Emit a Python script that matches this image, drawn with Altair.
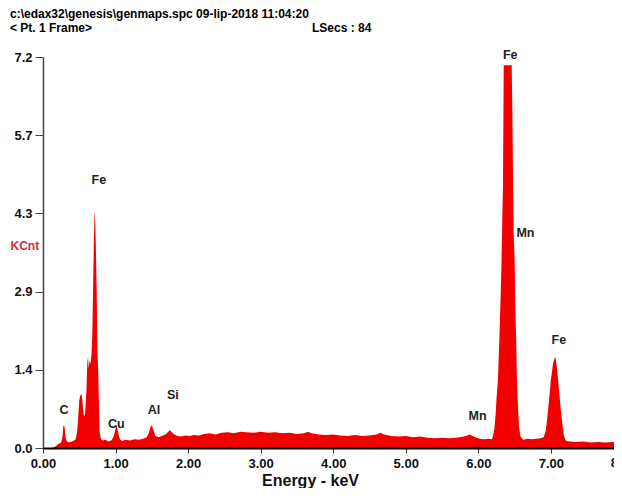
import altair as alt
import pandas as pd

# ---- spectrum data (energy in keV, counts in KCnt) ----
low_energy = [0.00, 0.12, 0.16, 0.19, 0.22, 0.25, 0.27, 0.28, 0.29, 0.30, 0.31, 0.33, 0.36, 0.40, 0.43,
              0.45, 0.47, 0.48, 0.50, 0.51, 0.53, 0.54, 0.55, 0.565, 0.58, 0.59, 0.60, 0.61, 0.62, 0.63,
              0.64, 0.65, 0.66, 0.67, 0.68, 0.69, 0.70, 0.71, 0.72, 0.73, 0.74, 0.75, 0.76, 0.77, 0.78,
              0.80, 0.83, 0.86, 0.90, 0.94, 0.97, 0.99, 1.01, 1.02, 1.04, 1.06, 1.09]
low_counts = [0.00, 0.00, 0.02, 0.05, 0.08, 0.10, 0.22, 0.40, 0.42, 0.36, 0.20, 0.12, 0.10, 0.12, 0.14,
              0.16, 0.30, 0.46, 0.88, 0.95, 1.00, 0.92, 0.75, 0.58, 0.62, 0.85, 1.10, 1.55, 1.67, 1.45,
              1.62, 1.55, 1.60, 1.75, 2.10, 2.90, 3.70, 4.38, 4.15, 3.60, 2.90, 1.80, 1.45, 0.90, 0.30,
              0.16, 0.14, 0.15, 0.12, 0.14, 0.20, 0.30, 0.42, 0.38, 0.26, 0.16, 0.13]

mid_energy = [1.14, 1.20, 1.26, 1.32, 1.38, 1.43, 1.46, 1.48, 1.50, 1.52, 1.55, 1.60, 1.65, 1.69, 1.72,
              1.75, 1.77, 1.80, 1.85, 1.90, 1.96, 2.02, 2.08, 2.15, 2.22, 2.30, 2.38, 2.46, 2.55, 2.63,
              2.72, 2.80, 2.90, 3.00, 3.10, 3.20, 3.30, 3.40, 3.50, 3.60, 3.65, 3.70, 3.80, 3.90, 4.00,
              4.10, 4.20, 4.30, 4.40, 4.50, 4.60, 4.65, 4.70, 4.80, 4.90, 5.00, 5.10, 5.20, 5.30, 5.40,
              5.50, 5.60, 5.70, 5.80, 5.85, 5.88, 5.92, 5.96, 6.02, 6.08, 6.14, 6.19]
mid_counts = [0.15, 0.14, 0.16, 0.15, 0.17, 0.20, 0.28, 0.38, 0.42, 0.34, 0.22, 0.20, 0.23, 0.25, 0.29,
              0.33, 0.30, 0.26, 0.22, 0.21, 0.23, 0.22, 0.24, 0.23, 0.26, 0.27, 0.25, 0.28, 0.29, 0.27,
              0.30, 0.29, 0.28, 0.30, 0.28, 0.29, 0.27, 0.28, 0.26, 0.27, 0.30, 0.27, 0.25, 0.24, 0.25,
              0.23, 0.22, 0.24, 0.22, 0.23, 0.25, 0.28, 0.25, 0.22, 0.21, 0.22, 0.20, 0.21, 0.19, 0.18,
              0.19, 0.18, 0.19, 0.21, 0.23, 0.25, 0.22, 0.20, 0.17, 0.16, 0.17, 0.16]

high_energy = [6.22, 6.24, 6.25, 6.27, 6.29, 6.31, 6.32, 6.33, 6.34, 6.35, 6.40, 6.46, 6.47, 6.48, 6.49,
               6.50, 6.51, 6.52, 6.53, 6.54, 6.56, 6.58, 6.62, 6.68, 6.74, 6.80, 6.86, 6.90, 6.93, 6.95,
               6.97, 7.00, 7.03, 7.06, 7.08, 7.10, 7.12, 7.14, 7.16, 7.18, 7.21, 7.26, 7.35, 7.45, 7.55,
               7.65, 7.75, 7.85, 7.92]
high_counts = [0.33, 0.64, 0.90, 1.25, 2.00, 2.90, 3.45, 4.20, 4.85, 7.05, 7.05, 7.05, 6.10, 4.75, 3.80,
               3.50, 2.60, 2.10, 1.37, 0.95, 0.40, 0.21, 0.15, 0.17, 0.16, 0.17, 0.18, 0.20, 0.32, 0.55,
               0.82, 1.25, 1.56, 1.69, 1.52, 1.25, 0.95, 0.66, 0.42, 0.22, 0.13, 0.12, 0.11, 0.12, 0.10,
               0.11, 0.10, 0.11, 0.10]

# ---- peak labels ----
peak_names = ["C", "Fe", "Cu", "Al", "Si", "Mn", "Fe", "Mn", "Fe"]
peak_energy = [0.29, 0.77, 1.01, 1.53, 1.79, 5.99, 6.44, 6.65, 7.11]
peak_label_y = [0.70, 4.94, 0.44, 0.70, 0.98, 0.59, 7.24, 3.96, 1.99]

# ---- axis ticks ----
x_ticks = [0, 1, 2, 3, 4, 5, 6, 7]
y_ticks = [0.0, 1.44, 2.88, 4.32, 5.76, 7.2]
y_tick_labels = ["0.0", "1.4", "2.9", "4.3", "5.7", "7.2"]

header_line1 = "c:\\edax32\\genesis\\genmaps.spc  09-lip-2018 11:04:20"
header_line2a = "< Pt.  1 Frame>"
header_line2b = "LSecs :  84"

FONT = "Liberation Sans, Arial, Helvetica, sans-serif"
RED = "#f20000"

spec = pd.DataFrame({
    "energy": low_energy + mid_energy + high_energy,
    "kcnt": low_counts + mid_counts + high_counts,
})
peaks = pd.DataFrame({"name": peak_names, "energy": peak_energy, "y": peak_label_y})

label_expr = "[" + ",".join("'%s'" % s for s in y_tick_labels) + "][round(datum.value / 1.44)]"

xscale = alt.Scale(domain=[0, 7.87], nice=False)
yscale = alt.Scale(domain=[0, 7.2], nice=False)

area = alt.Chart(spec).mark_area(color=RED, interpolate="linear").encode(
    x=alt.X("energy:Q", scale=xscale,
            axis=alt.Axis(values=x_ticks, format=".2f", title="Energy - keV",
                          labelFont=FONT, labelFontSize=13, labelFontWeight="bold", labelColor="#111",
                          labelFlush=False, labelPadding=4, tickSize=5, tickColor="#333",
                          domainColor="#000", domainWidth=2, grid=False, zindex=1,
                          titleFont=FONT, titleFontSize=16, titleFontWeight="bold", titleColor="#111",
                          titlePadding=2, titleX=267)),
    y=alt.Y("kcnt:Q", scale=yscale,
            axis=alt.Axis(values=y_ticks, labelExpr=label_expr, title="KCnt",
                          labelFont=FONT, labelFontSize=13, labelFontWeight="bold", labelColor="#111",
                          labelPadding=3, tickSize=8, tickColor="#444", domainColor="#444",
                          domainWidth=1.5, grid=False, labelOverlap=False,
                          titleAngle=0, titleAlign="left", titleBaseline="middle",
                          titleX=-33, titleY=188, titleColor="#c8323c",
                          titleFont=FONT, titleFontSize=12, titleFontWeight="bold")),
)

labels = alt.Chart(peaks).mark_text(font=FONT, fontSize=12.5, fontWeight="bold", color="#222",
                                    baseline="middle", align="center").encode(
    x=alt.X("energy:Q", scale=xscale),
    y=alt.Y("y:Q", scale=yscale),
    text="name:N",
)

edge = alt.Chart(pd.DataFrame({"energy": [8.0], "t": ["8.00"]})).mark_text(
    font=FONT, fontSize=13, fontWeight="bold", color="#111", baseline="top", align="center"
).encode(x=alt.X("energy:Q", scale=xscale), y=alt.value(400), text="t:N")

h1 = alt.Chart(pd.DataFrame({"t": [header_line1]})).mark_text(
    font=FONT, fontSize=12, fontWeight="bold", color="#000", align="left", baseline="alphabetic"
).encode(x=alt.value(-33), y=alt.value(-39), text="t:N")
h2 = alt.Chart(pd.DataFrame({"t": [header_line2a]})).mark_text(
    font=FONT, fontSize=12, fontWeight="bold", color="#000", align="left", baseline="alphabetic"
).encode(x=alt.value(-33), y=alt.value(-25), text="t:N")
h3 = alt.Chart(pd.DataFrame({"t": [header_line2b]})).mark_text(
    font=FONT, fontSize=12, fontWeight="bold", color="#000", align="left", baseline="alphabetic"
).encode(x=alt.value(269), y=alt.value(-25), text="t:N")

chart = alt.layer(area, labels, edge, h1, h2, h3).properties(
    width=571, height=391,
    autosize=alt.AutoSizeParams(type="none"),
    padding={"left": 35, "top": 49, "right": 0, "bottom": 40},
    background="white",
).configure_view(stroke=None)

chart.save("out.html", embed_options={"renderer": "svg", "actions": False})
